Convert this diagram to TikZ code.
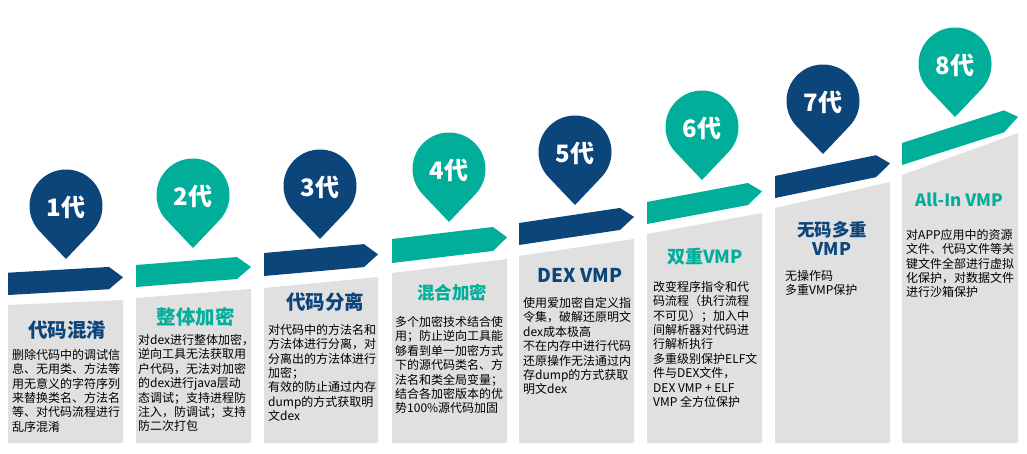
\documentclass[tikz,border=0pt]{standalone}
\usepackage{fontspec}
\setmainfont{Noto Sans CJK SC}
\definecolor{navyc}{RGB}{11,69,122}
\definecolor{tealc}{RGB}{0,174,154}
\definecolor{boxgray}{RGB}{224,224,224}
\tikzset{
  pinlabel/.style={text=white, font=\fontsize{24}{24}\selectfont\bfseries, inner sep=0pt},
  titletext/.style={font=\bfseries, inner sep=0pt, align=center},
  bodytext/.style={anchor=north west, inner sep=0pt, align=left, font=\fontsize{12}{14.4}\selectfont, text=black},
}
% band: L, R, yTL, slope, h, colour
\newcommand\myband[6]{%
  \fill[#6] (#1,#3) -- ({#2-14},{#3+(#4)*(#2-14-#1)}) -- (#2,{#3+(#4)*(#2-#1)+#5/2})
    -- ({#2-14},{#3+#5+(#4)*(#2-14-#1)}) -- (#1,{#3+#5}) -- cycle;}
% gray box: L, R, yTopLeft, yTopRight
\newcommand\mygray[4]{%
  \fill[boxgray] (#1,#3) -- (#2,#4) -- (#2,443) -- (#1,443) -- cycle;}
% pin: cx, tip y, colour, label, name
\newcommand\mypin[5]{%
  \fill[#3] (#1,{#2-53}) ++(136.5:36.5) arc[start angle=136.5,end angle=403.5,radius=36.5] -- (#1,#2) -- cycle;
  \node[pinlabel] (#5) at (#1,{#2-52}) {#4};}
\begin{document}
\begin{tikzpicture}[x=1pt,y=-1pt]
\useasboundingbox (0,0) rectangle (1027,453);
\fill[white] (0,0) rectangle (1027,453);

% gray columns
\mygray{8}{123}{305}{300}
\mygray{136}{251}{298}{289}
\mygray{264}{378}{288}{277}
\mygray{392}{507}{273}{259}
\mygray{519}{634}{256}{239}
\mygray{647}{762}{234}{213}
\mygray{775}{890}{208}{182}
\mygray{902}{1018}{175}{133}

% bands
\myband{8}{123}{272.7}{-0.057}{22.3}{navyc}
\myband{136}{251}{265}{-0.079}{22}{tealc}
\myband{264}{378}{253}{-0.089}{23}{navyc}
\myband{392}{507}{239}{-0.119}{24}{tealc}
\myband{519}{634}{223}{-0.149}{22}{navyc}
\myband{647}{762}{202}{-0.188}{22}{tealc}
\myband{775}{890}{176}{-0.206}{22}{navyc}
\myband{902}{1018}{143}{-0.32}{22}{tealc}

% pins
\mypin{66}{259}{navyc}{1代}{p1}
\mypin{193}{248}{tealc}{2代}{p2}
\mypin{320}{239}{navyc}{3代}{p3}
\mypin{449}{222}{tealc}{4代}{p4}
\mypin{575}{205}{navyc}{5代}{p5}
\mypin{702}{180}{tealc}{6代}{p6}
\mypin{823}{154}{navyc}{7代}{p7}
\mypin{955}{117}{tealc}{8代}{p8}

% titles
\node[titletext, text=navyc, font=\fontsize{19.5}{19.5}\selectfont\bfseries] (t1) at (67,330) {代码混淆};
\node[titletext, text=tealc, font=\fontsize{19.5}{19.5}\selectfont\bfseries] (t2) at (195.5,317) {整体加密};
\node[titletext, text=navyc, font=\fontsize{19.5}{19.5}\selectfont\bfseries] (t3) at (325,302) {代码分离};
\node[titletext, text=tealc, font=\fontsize{17.5}{17.5}\selectfont\bfseries] (t4) at (452,293) {混合加密};
\node[titletext, text=navyc, font=\fontsize{19}{19}\selectfont\bfseries] (t5) at (580,275) {DEX VMP};
\node[titletext, text=tealc, font=\fontsize{18}{18}\selectfont\bfseries] (t6) at (705,257) {双重VMP};
\node[titletext, text=navyc, font=\fontsize{17.5}{19}\selectfont\bfseries] (t7) at (832,238.5) {无码多重\\VMP};
\node[titletext, text=tealc, font=\fontsize{17}{17}\selectfont\bfseries] (t8) at (959,200) {All-In VMP};

% bodies
\node[bodytext] (b1) at (12,349) {删除代码中的调试信\\息、无用类、方法等\\用无意义的字符序列\\来替换类名、方法名\\等、对代码流程进行\\乱序混淆};
\node[bodytext] (b2) at (138,334) {对dex进行整体加密，\\逆向工具无法获取用\\户代码，无法对加密\\的dex进行java层动\\态调试；支持进程防\\注入，防调试；支持\\防二次打包};
\node[bodytext] (b3) at (268,324) {对代码中的方法名和\\方法体进行分离，对\\分离出的方法体进行\\加密；\\有效的防止通过内存\\dump的方式获取明\\文dex};
\node[bodytext] (b4) at (395,316) {多个加密技术结合使\\用；防止逆向工具能\\够看到单一加密方式\\下的源代码类名、方\\法名和类全局变量；\\结合各加密版本的优\\势100\%源代码加固};
\node[bodytext] (b5) at (523,297) {使用爱加密自定义指\\令集，破解还原明文\\dex成本极高\\不在内存中进行代码\\还原操作无法通过内\\存dump的方式获取\\明文dex};
\node[bodytext] (b6) at (653,281) {改变程序指令和代\\码流程（执行流程\\不可见）；加入中\\间解析器对代码进\\行解析执行\\多重级别保护ELF文\\件与DEX文件，\\DEX VMP + ELF\\VMP 全方位保护};
\node[bodytext] (b7) at (785,270) {无操作码\\多重VMP保护};
\node[bodytext] (b8) at (906,229) {对APP应用中的资源\\文件、代码文件等关\\键文件全部进行虚拟\\化保护，对数据文件\\进行沙箱保护};
\end{tikzpicture}
\end{document}
